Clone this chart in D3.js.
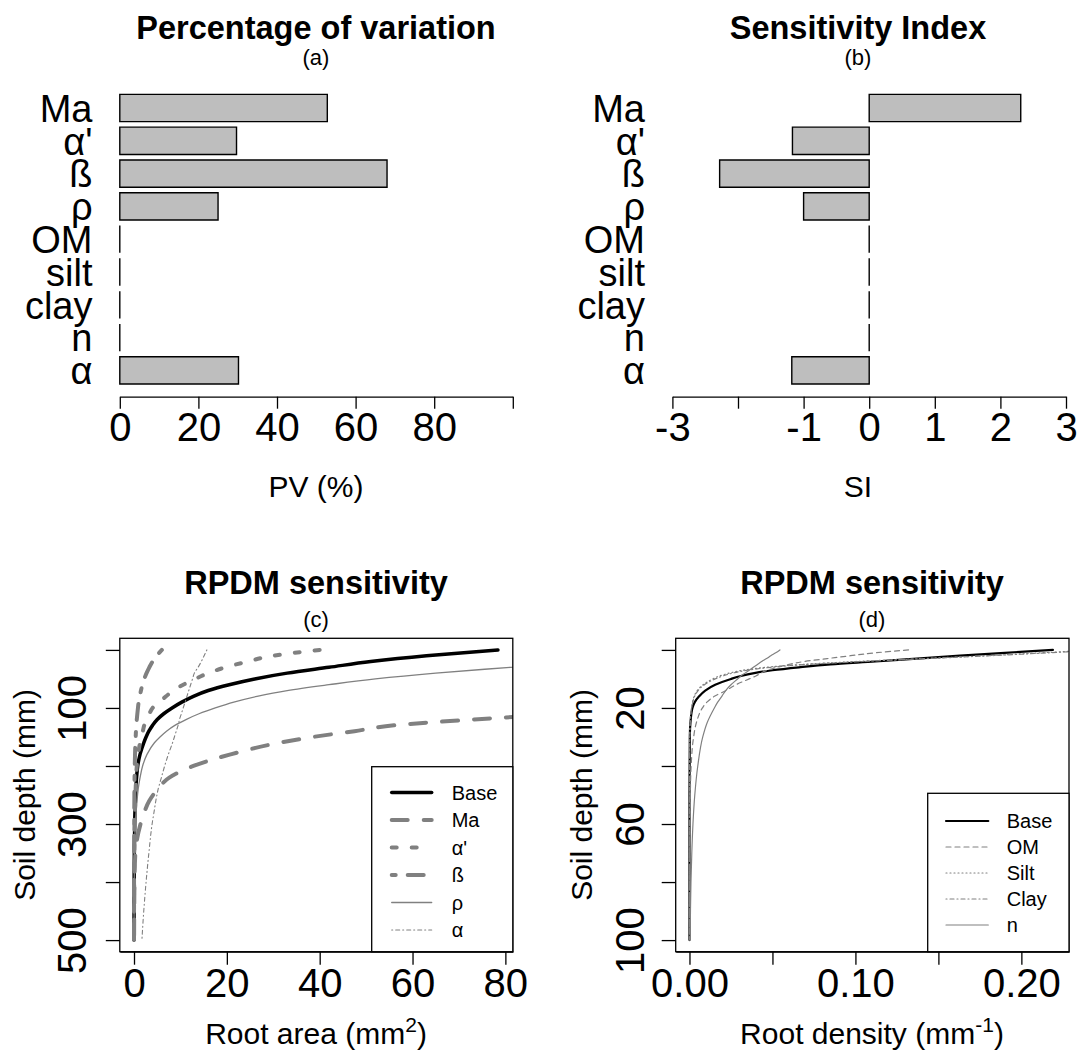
<!DOCTYPE html>
<html><head><meta charset="utf-8">
<script src="https://cdn.jsdelivr.net/npm/d3@7"></script>
<style>
body{margin:0;background:#fff}
svg{display:block}
text{font-family:"Liberation Sans",Arial,Helvetica,sans-serif;fill:#000}
</style>
</head><body>
<svg id="chart" width="1079" height="1052"></svg>
<script>
// ---------- data ----------
const categories = ["Ma", "α'", "ß", "ρ", "OM", "silt", "clay", "n", "α"];
const pvValues = [52.8, 29.7, 68.0, 25.0, 0, 0, 0, 0, 30.2];
const siValues = [2.31, -1.17, -2.28, -1.00, 0, 0, 0, 0, -1.18];
const pvTicks = [0, 20, 40, 60, 80, 100];
const pvTickLabels = ["0", "20", "40", "60", "80", ""];
const siTicks = [-3, -2, -1, 0, 1, 2, 3];
const siTickLabels = ["-3", "", "-1", "0", "1", "2", "3"];

// panel (c): root area (mm2) by soil depth (mm)
const depthC      = [0, 10, 20, 30, 40, 50, 60, 70, 80, 90, 100, 110, 120, 130, 140, 150, 160, 180, 200, 220, 240, 260, 280, 300, 350, 400, 450, 500];
const baseC       = [78.4, 63, 51, 42, 33, 26, 20.5, 16, 12.8, 10.3, 8.2, 6.4, 5.0, 4.0, 3.2, 2.6, 2.1, 1.3, 0.8, 0.55, 0.4, 0.3, 0.2, 0.15, 0.07, 0.03, 0.01, 0];
const maC         = [null, null, null, null, null, null, null, null, null, null, 118, 94, 73, 56, 47.5, 38.5, 31.3, 20.8, 12.8, 7.6, 5.1, 3.3, 2.2, 1.4, 0.3, 0.1, 0.05, 0.02];
const alphaPrimeC = [40, 30, 24.5, 19.7, 16, 13.2, 10.6, 8.4, 6.9, 5.4, 4.0, 3.3, 2.6, 2.2, 1.9, 1.6, 1.3, 0.9, 0.6, 0.45, 0.35, 0.28, 0.2, 0.12, 0.06, 0.03, 0.01, 0];
const betaC       = [6.0, 4.9, 4.0, 3.3, 2.7, 2.2, 1.8, 1.5, 1.25, 1.0, 0.85, 0.72, 0.6, 0.5, 0.42, 0.36, 0.3, 0.22, 0.16, 0.12, 0.09, 0.07, 0.05, 0.04, 0.02, 0.01, 0.005, 0];
const rhoC        = [null, null, 97, 81, 65, 52, 42, 33, 26.5, 21.5, 17.5, 14, 11.2, 8.8, 7.0, 5.6, 4.4, 2.8, 1.85, 1.3, 0.9, 0.65, 0.45, 0.3, 0.12, 0.05, 0.02, 0.01];
const alphaC      = [15.7, 15.1, 14.5, 13.8, 13.0, 12.6, 12.2, 11.8, 11.4, 11.0, 10.6, 10.2, 9.8, 9.5, 9.1, 8.7, 8.3, 7.4, 6.6, 5.9, 5.2, 4.7, 4.3, 3.9, 3.2, 2.6, 2.1, 1.7];
const xTicksC = [0, 20, 40, 60, 80];
const yTicksC = [0, 100, 200, 300, 400, 500];
const yTickLabelsC = ["", "100", "", "300", "", "500"];

// panel (d): root density (mm-1) by soil depth (mm)
const depthD = [0, 1, 2, 3, 4, 5, 6, 7, 8, 9, 10, 12, 14, 16, 18, 20, 25, 30, 40, 50, 60, 70, 80, 90, 100];
const baseD  = [0.219, 0.19, 0.163, 0.137, 0.112, 0.085, 0.066, 0.05, 0.039, 0.031, 0.025, 0.0155, 0.0095, 0.0058, 0.0032, 0.0018, 0.0006, 0.0002, 0.0001, 0, 0, 0, 0, 0, 0];
const omD    = [0.132, 0.112, 0.097, 0.083, 0.069, 0.06, 0.053, 0.047, 0.043, 0.04, 0.036, 0.028, 0.022, 0.015, 0.0105, 0.0078, 0.0042, 0.0025, 0.001, 0.0005, 0.0002, 0.0001, 0.0001, 0, 0];
const siltD  = [0.245, 0.212, 0.178, 0.14, 0.1, 0.068, 0.046, 0.032, 0.024, 0.018, 0.014, 0.0082, 0.0047, 0.0028, 0.0018, 0.0012, 0.0004, 0.0001, 0, 0, 0, 0, 0, 0, 0];
const clayD  = [0.25, 0.216, 0.181, 0.143, 0.104, 0.071, 0.049, 0.035, 0.026, 0.02, 0.0155, 0.009, 0.0052, 0.0031, 0.002, 0.0013, 0.0005, 0.0002, 0, 0, 0, 0, 0, 0, 0];
const nD     = [0.0545, 0.052, 0.049, 0.0465, 0.0435, 0.041, 0.0385, 0.036, 0.0335, 0.031, 0.029, 0.025, 0.0218, 0.0195, 0.017, 0.015, 0.0107, 0.008, 0.005, 0.0032, 0.0021, 0.0014, 0.0009, 0.0006, 0.0004];
const xTicksD = [0, 0.05, 0.10, 0.15, 0.20];
const xTickLabelsD = ["0.00", "", "0.10", "", "0.20"];
const yTicksD = [0, 20, 40, 60, 80, 100];
const yTickLabelsD = ["", "20", "", "60", "", "100"];

// ---------- drawing ----------
const svg = d3.select("#chart");
const GRAY = "#808080";
const defs = svg.append("defs");

function styleAxis(g, fs) {
  g.attr("font-size", fs).attr("font-family", null);
  g.select(".domain").attr("stroke", "#000").attr("stroke-width", 1.3);
  g.selectAll(".tick line").attr("stroke", "#000").attr("stroke-width", 1.3);
  g.selectAll(".tick text").attr("fill", "#000");
}

function titles(cx, y1, y2, main, sub) {
  svg.append("text").attr("x", cx).attr("y", y1).attr("text-anchor", "middle")
    .attr("font-size", 32.5).attr("font-weight", "bold").text(main);
  svg.append("text").attr("x", cx).attr("y", y2).attr("text-anchor", "middle")
    .attr("font-size", 22).text(sub);
}

function barPanel(values, x, ticks, tickLabels, labelRight) {
  const y = d3.scaleBand().domain(categories).range([91.6, 386.8]).paddingInner(1 / 6).paddingOuter(1 / 12);
  const g = svg.append("g");
  g.selectAll("path.bar").data(categories).join("path")
    .attr("class", "bar")
    .attr("d", (c, i) => {
      const x0 = x(0), x1 = x(values[i]), y0 = y(c), h = y.bandwidth();
      return `M${x0},${y0}H${x1}V${y0 + h}H${x0}Z`;
    })
    .attr("fill", "#bebebe").attr("stroke", "#000").attr("stroke-width", 1.4);
  g.selectAll("text.cat").data(categories).join("text")
    .attr("class", "cat")
    .attr("x", labelRight).attr("y", c => y(c) + y.bandwidth() / 2 + 13.7)
    .attr("text-anchor", "end").attr("font-size", 38).text(c => c);
  const ax = d3.axisBottom(x).tickValues(ticks).tickFormat((d, i) => tickLabels[i])
    .tickSize(12).tickSizeOuter(0).tickPadding(4);
  const ag = svg.append("g").attr("transform", "translate(0,396.7)").call(ax);
  styleAxis(ag, 40);
}

// (a)
const xA = d3.scaleLinear().domain([0, 100]).range([119.8, 512.8]);
barPanel(pvValues, xA, pvTicks, pvTickLabels, 92.5);
titles(316, 39, 65, "Percentage of variation", "(a)");
svg.append("text").attr("x", 316).attr("y", 497).attr("text-anchor", "middle").attr("font-size", 30).text("PV (%)");

// (b)
const xB = d3.scaleLinear().domain([-3, 3]).range([672.4, 1066]);
barPanel(siValues, xB, siTicks, siTickLabels, 645);
titles(858, 39, 65, "Sensitivity Index", "(b)");
svg.append("text").attr("x", 858).attr("y", 497).attr("text-anchor", "middle").attr("font-size", 30).text("SI");

function linePanel(cfg) {
  const { id, x, y, depth, series, xTicks, xLabels, yTicks, yLabels, yLabelOffset, legend, legBox } = cfg;
  const [x0, x1] = x.range(), [y0, y1] = y.range();
  defs.append("clipPath").attr("id", id).append("rect")
    .attr("x", x0).attr("y", y0).attr("width", x1 - x0).attr("height", y1 - y0);
  const plot = svg.append("g").attr("clip-path", `url(#${id})`);
  series.forEach(s => {
    const pts = depth.map((d, i) => [d, s.values[i]]);
    const line = d3.line().defined(p => p[1] != null)
      .x(p => x(p[1])).y(p => y(p[0])).curve(d3.curveMonotoneY);
    plot.append("path").attr("d", line(pts)).attr("fill", "none")
      .attr("stroke", s.color).attr("stroke-width", s.width)
      .attr("stroke-dasharray", s.dash).attr("stroke-linecap", "round").attr("stroke-linejoin", "round");
  });
  // axes
  const ax = d3.axisBottom(x).tickValues(xTicks).tickFormat((d, i) => xLabels[i])
    .tickSize(13).tickSizeOuter(0).tickPadding(3.6);
  const ag = svg.append("g").attr("transform", `translate(0,${y1})`).call(ax);
  styleAxis(ag, 40);
  const ay = d3.axisLeft(y).tickValues(yTicks).tickFormat((d, i) => yLabels[i])
    .tickSize(14).tickSizeOuter(0);
  const yg = svg.append("g").attr("transform", `translate(${x0},0)`).call(ay);
  styleAxis(yg, 40);
  yg.select(".domain").remove();
  yg.selectAll(".tick text").attr("transform", "rotate(-90)")
    .attr("x", 0).attr("y", -yLabelOffset).attr("dy", null).attr("text-anchor", "middle");
  // box
  svg.append("rect").attr("x", x0).attr("y", y0).attr("width", x1 - x0).attr("height", y1 - y0)
    .attr("fill", "none").attr("stroke", "#000").attr("stroke-width", 1.3);
  // legend
  const lg = svg.append("g");
  lg.append("rect").attr("x", legBox.left).attr("y", legBox.top)
    .attr("width", x1 - legBox.left).attr("height", y1 - legBox.top)
    .attr("fill", "#fff").attr("stroke", "#000").attr("stroke-width", 1.3);
  legend.forEach((s, i) => {
    const ly = legBox.row0 + i * legBox.step;
    lg.append("line").attr("x1", legBox.l1).attr("x2", legBox.l2).attr("y1", ly).attr("y2", ly)
      .attr("stroke", s.color).attr("stroke-width", s.width).attr("stroke-dasharray", s.dash)
      .attr("stroke-linecap", "round");
    lg.append("text").attr("x", legBox.tx).attr("y", ly + 7).attr("font-size", 20).text(s.label);
  });
}

// (c)
const xC = d3.scaleLinear().domain([-3.06, 81.6]).range([119.8, 512.8]);
const yC = d3.scaleLinear().domain([-20, 520]).range([638.3, 951.7]);
const seriesC = [
  { label: "Base", values: baseC, color: "#000", width: 3.5, dash: null },
  { label: "Ma", values: maC, color: GRAY, width: 4, dash: "16,16" },
  { label: "α'", values: alphaPrimeC, color: GRAY, width: 4, dash: "5,15" },
  { label: "ß", values: betaC, color: GRAY, width: 4, dash: "4,12,16,12" },
  { label: "ρ", values: rhoC, color: GRAY, width: 1.3, dash: null },
  { label: "α", values: alphaC, color: GRAY, width: 1.1, dash: "1,3,4,3" }
];
linePanel({
  id: "clipC", x: xC, y: yC, depth: depthC, series: seriesC,
  xTicks: xTicksC, xLabels: xTicksC.map(String), yTicks: yTicksC, yLabels: yTickLabelsC, yLabelOffset: 33.8,
  legend: seriesC,
  legBox: { left: 371.7, top: 766.7, row0: 792.5, step: 27.5, l1: 391.7, l2: 431.7, tx: 451.7 }
});
titles(316, 594, 627, "RPDM sensitivity", "(c)");
const tC = svg.append("text").attr("x", 316).attr("y", 1044).attr("text-anchor", "middle").attr("font-size", 30);
tC.append("tspan").text("Root area (mm");
tC.append("tspan").attr("font-size", 21).attr("dy", -12).text("2");
tC.append("tspan").attr("dy", 12).text(")");
svg.append("text").attr("transform", "translate(34.5,795) rotate(-90)").attr("text-anchor", "middle")
  .attr("font-size", 30).text("Soil depth (mm)");

// (d)
const xD = d3.scaleLinear().domain([-0.0083, 0.2287]).range([675.7, 1069]);
const yD = d3.scaleLinear().domain([-4, 104]).range([638.3, 951.7]);
const seriesD = [
  { label: "Base", values: baseD, color: "#000", width: 2.2, dash: null },
  { label: "OM", values: omD, color: GRAY, width: 1.2, dash: "5,4" },
  { label: "Silt", values: siltD, color: GRAY, width: 1.2, dash: "1,3" },
  { label: "Clay", values: clayD, color: GRAY, width: 1.2, dash: "1,3,4,3" },
  { label: "n", values: nD, color: GRAY, width: 1.2, dash: null }
];
linePanel({
  id: "clipD", x: xD, y: yD, depth: depthD, series: seriesD,
  xTicks: xTicksD, xLabels: xTickLabelsD, yTicks: yTicksD, yLabels: yTickLabelsD, yLabelOffset: 32,
  legend: seriesD,
  legBox: { left: 927.7, top: 793.3, row0: 821, step: 26, l1: 946, l2: 988.3, tx: 1006.7 }
});
titles(872, 594, 627, "RPDM sensitivity", "(d)");
const tD = svg.append("text").attr("x", 872).attr("y", 1044).attr("text-anchor", "middle").attr("font-size", 30);
tD.append("tspan").text("Root density (mm");
tD.append("tspan").attr("font-size", 21).attr("dy", -12).text("-1");
tD.append("tspan").attr("dy", 12).text(")");
svg.append("text").attr("transform", "translate(592,795) rotate(-90)").attr("text-anchor", "middle")
  .attr("font-size", 30).text("Soil depth (mm)");
</script>
</body></html>
